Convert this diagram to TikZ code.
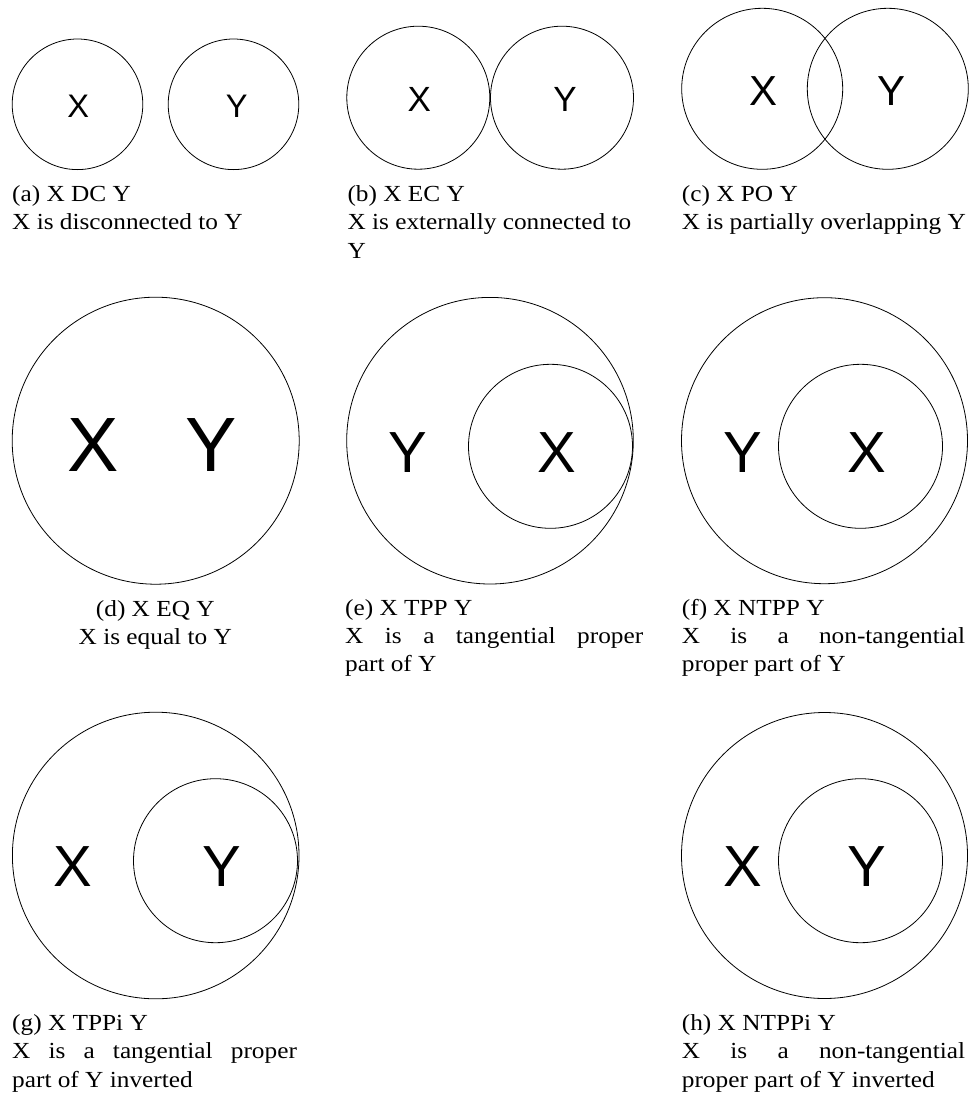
\documentclass[tikz,border=0pt]{standalone}
\usepackage{fontspec}
\newfontfamily\capfont{Liberation Serif}[FakeStretch=1.1]
\newfontfamily\lblfont{Liberation Sans}
\begin{document}
\begin{tikzpicture}[x=1pt,y=-1pt]
\tikzset{
  reg/.style={circle, draw, line width=0.8pt, inner sep=0pt, minimum size=#1},
  lbl/.style={inner sep=0pt, font=\lblfont\fontsize{#1}{#1}\selectfont},
  captxt/.style={inner sep=0pt, anchor=base west, font=\capfont\fontsize{23}{28}\selectfont},
  captxtc/.style={inner sep=0pt, anchor=base, font=\capfont\fontsize{23}{28}\selectfont},
}
\useasboundingbox (0,0) rectangle (973,1095);
% (a)
\node[reg=130.6pt] (ax) at (77.5,104.3) {};
\node[reg=130.6pt] (ay) at (233.5,104.3) {};
\node[lbl=32.6] (axl) at (78.3,106.7) {X};
\node[lbl=32.6] (ayl) at (236.7,106.7) {Y};
\node[captxt] (a1) at (12,201.7) {(a) X DC Y};
\node[captxt] (a2) at (12,229.5) {X is disconnected to Y};
% (b)
\node[reg=143pt] (bx) at (418.3,97.7) {};
\node[reg=143pt] (by) at (562,97.7) {};
\node[lbl=35] (bxl) at (419.2,99.2) {X};
\node[lbl=35] (byl) at (565,99.2) {Y};
\node[captxt] (b1) at (347.3,201.7) {(b) X EC Y};
\node[captxt] (b2) at (347.3,229.5) {X is externally connected to};
\node[captxt] (b3) at (347.3,258) {Y};
% (c)
\node[reg=161pt] (cx) at (762.2,88.8) {};
\node[reg=161pt] (cy) at (887.8,88.8) {};
\node[lbl=42] (cxl) at (763.3,91) {X};
\node[lbl=42] (cyl) at (891.7,91) {Y};
\node[captxt] (c1) at (681.7,201.7) {(c) X PO Y};
\node[captxt] (c2) at (681.7,229.5) {X is partially overlapping Y};
% (d)
\node[reg=287pt] (dxy) at (155.7,440.7) {};
\node[lbl=77] (dxl) at (93,445) {X};
\node[lbl=77] (dyl) at (211.5,445) {Y};
\node[captxtc] (d1) at (155.3,616) {(d) X EQ Y};
\node[captxtc] (d2) at (155.3,644) {X is equal to Y};
% (e)
\node[reg=286.6pt] (ey) at (490,440.7) {};
\node[reg=164pt] (ex) at (550.5,446.3) {};
\node[lbl=58] (eyl) at (408,452.5) {Y};
\node[lbl=58] (exl) at (557,452.5) {X};
\node[captxt] (e1) at (345,615.5) {(e) X TPP Y};
\node[captxt] (e2) at (345,643.5) {\makebox[298pt][s]{X is a tangential proper}};
\node[captxt] (e3) at (345,671.7) {part of Y};
% (f)
\node[reg=286pt] (fy) at (824.5,440.7) {};
\node[reg=164pt] (fx) at (860.5,446.3) {};
\node[lbl=58] (fyl) at (743.3,452.5) {Y};
\node[lbl=58] (fxl) at (867,452.5) {X};
\node[captxt] (f1) at (681.7,615.5) {(f) X NTPP Y};
\node[captxt] (f2) at (681.7,643.5) {\makebox[283.3pt][s]{X is a non-tangential}};
\node[captxt] (f3) at (681.7,671.7) {proper part of Y};
% (g)
\node[reg=286.6pt] (gx) at (155.7,855.5) {};
\node[reg=164pt] (gy) at (215.5,860.7) {};
\node[lbl=58] (gxl) at (73,866.7) {X};
\node[lbl=58] (gyl) at (221.7,866.7) {Y};
\node[captxt] (g1) at (12,1030) {(g) X TPPi Y};
\node[captxt] (g2) at (12,1058.5) {\makebox[284.7pt][s]{X is a tangential proper}};
\node[captxt] (g3) at (12,1087) {part of Y inverted};
% (h)
\node[reg=286pt] (hx) at (824.5,855.5) {};
\node[reg=164pt] (hy) at (860.5,860.7) {};
\node[lbl=58] (hxl) at (743.3,866.7) {X};
\node[lbl=58] (hyl) at (867,866.7) {Y};
\node[captxt] (h1) at (681.7,1030) {(h) X NTPPi Y};
\node[captxt] (h2) at (681.7,1058.5) {\makebox[283.3pt][s]{X is a non-tangential}};
\node[captxt] (h3) at (681.7,1087) {proper part of Y inverted};
\end{tikzpicture}
\end{document}
